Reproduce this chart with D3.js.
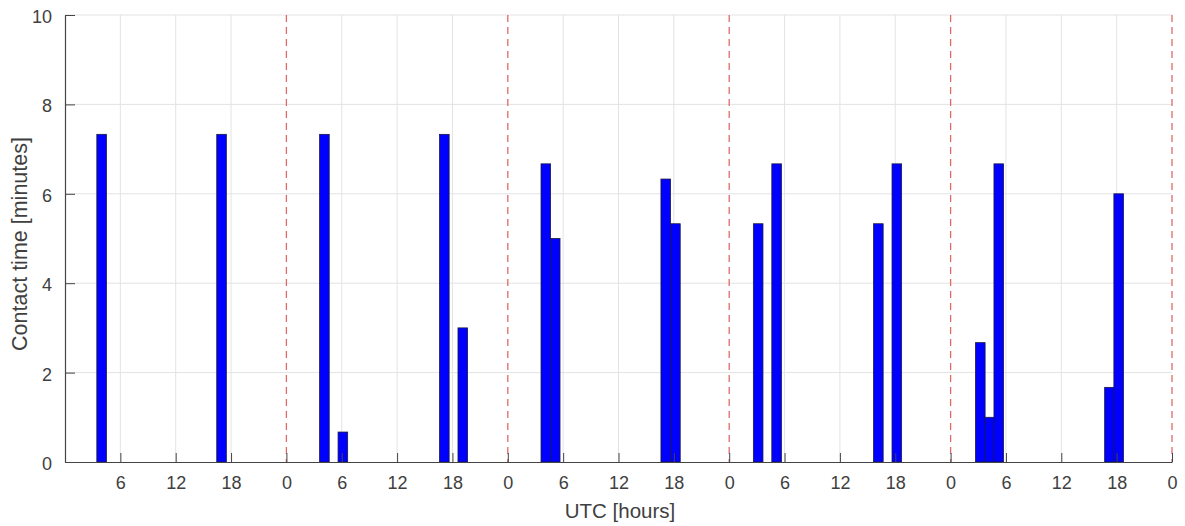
<!DOCTYPE html>
<html>
<head>
<meta charset="utf-8">
<script src="https://cdn.jsdelivr.net/npm/d3@7"></script>
<style>
  body { margin: 0; background: #fff; }
  svg text { font-family: "Liberation Sans", Arial, sans-serif; }
</style>
</head>
<body>
<div class="chart"></div>
<script>
  // bin start (hours since start of day 1) and contact time [minutes]
  var binStart = [3.45, 16.45, 27.6, 29.6, 40.6, 42.6, 51.6, 52.62, 64.6, 65.65,
                  74.62, 76.62, 87.65, 89.65, 98.7, 99.7, 100.7, 112.7, 113.7];
  var contact  = [7.33, 7.33, 7.33, 0.67, 7.33, 3.0, 6.67, 5.0, 6.33, 5.33,
                  5.33, 6.67, 5.33, 6.67, 2.67, 1.0, 6.67, 1.67, 6.0];
  var binWidth = 1.04;

  var xTicks = d3.range(6, 121, 6);
  var dayEdges = [24, 48, 72, 96, 120];
  var yTicks = [0, 2, 4, 6, 8, 10];

  var margin = {top: 15, right: 13, bottom: 64, left: 65};
  var width = 1185 - margin.left - margin.right,
      height = 526 - margin.top - margin.bottom;

  var x = d3.scaleLinear().domain([0, 120]).range([0, width]);
  var y = d3.scaleLinear().domain([0, 10]).range([height, 0]);

  var svg = d3.select('.chart')
      .append('svg')
      .attr('width', 1185)
      .attr('height', 526)
      .append('g')
      .attr('transform', 'translate(' + margin.left + ',' + margin.top + ')');

  // grid
  svg.append('g')
      .selectAll('line')
      .data(yTicks.filter(function(d) { return d > 0; }))
      .enter().append('line')
      .attr('x1', 0).attr('x2', width)
      .attr('y1', function(d) { return y(d); })
      .attr('y2', function(d) { return y(d); })
      .attr('stroke', '#e3e3e3');

  svg.append('g')
      .selectAll('line')
      .data(xTicks.filter(function(d) { return d % 24 !== 0; }))
      .enter().append('line')
      .attr('x1', function(d) { return x(d); })
      .attr('x2', function(d) { return x(d); })
      .attr('y1', 0).attr('y2', height)
      .attr('stroke', '#e3e3e3');

  // bars
  svg.append('g')
      .selectAll('rect')
      .data(binStart)
      .enter().append('rect')
      .attr('x', function(d) { return x(d); })
      .attr('width', function(d) { return x(d + binWidth) - x(d); })
      .attr('y', function(d, i) { return y(contact[i]); })
      .attr('height', function(d, i) { return height - y(contact[i]); })
      .attr('fill', '#0000ff')
      .attr('stroke', '#1a1a40')
      .attr('stroke-width', 0.8);

  // day separators
  svg.append('g')
      .selectAll('line')
      .data(dayEdges)
      .enter().append('line')
      .attr('x1', function(d) { return x(d); })
      .attr('x2', function(d) { return x(d); })
      .attr('y1', 0).attr('y2', height)
      .attr('stroke', '#e06a6a')
      .attr('stroke-width', 1.3)
      .attr('stroke-dasharray', '7,5');

  // axes
  var xAxis = d3.axisBottom(x)
      .tickValues(xTicks)
      .tickSizeInner(-9)
      .tickSizeOuter(0)
      .tickPadding(14)
      .tickFormat(function(d) { return d % 24; });

  var yAxis = d3.axisLeft(y)
      .tickValues(yTicks)
      .tickSizeInner(-10)
      .tickSizeOuter(0)
      .tickPadding(13)
      .tickFormat(function(d) { return d; });

  var gx = svg.append('g')
      .attr('transform', 'translate(0,' + height + ')')
      .call(xAxis);

  var gy = svg.append('g').call(yAxis);

  [gx, gy].forEach(function(g) {
    g.select('.domain').attr('stroke', '#444').attr('stroke-width', 1.2);
    g.selectAll('.tick line').attr('stroke', '#444');
    g.selectAll('.tick text')
        .attr('fill', '#404040')
        .attr('font-size', 18);
  });
  gy.selectAll('.tick text').attr('dy', '0.42em');

  svg.append('text')
      .attr('x', 620 - margin.left)
      .attr('y', 518 - margin.top)
      .attr('text-anchor', 'middle')
      .attr('font-size', 20.5)
      .attr('fill', '#404040')
      .text('UTC [hours]');

  svg.append('text')
      .attr('transform', 'translate(' + (27 - margin.left) + ',' + (244 - margin.top) + ') rotate(-90)')
      .attr('text-anchor', 'middle')
      .attr('font-size', 21.5)
      .attr('fill', '#404040')
      .text('Contact time [minutes]');
</script>
</body>
</html>
